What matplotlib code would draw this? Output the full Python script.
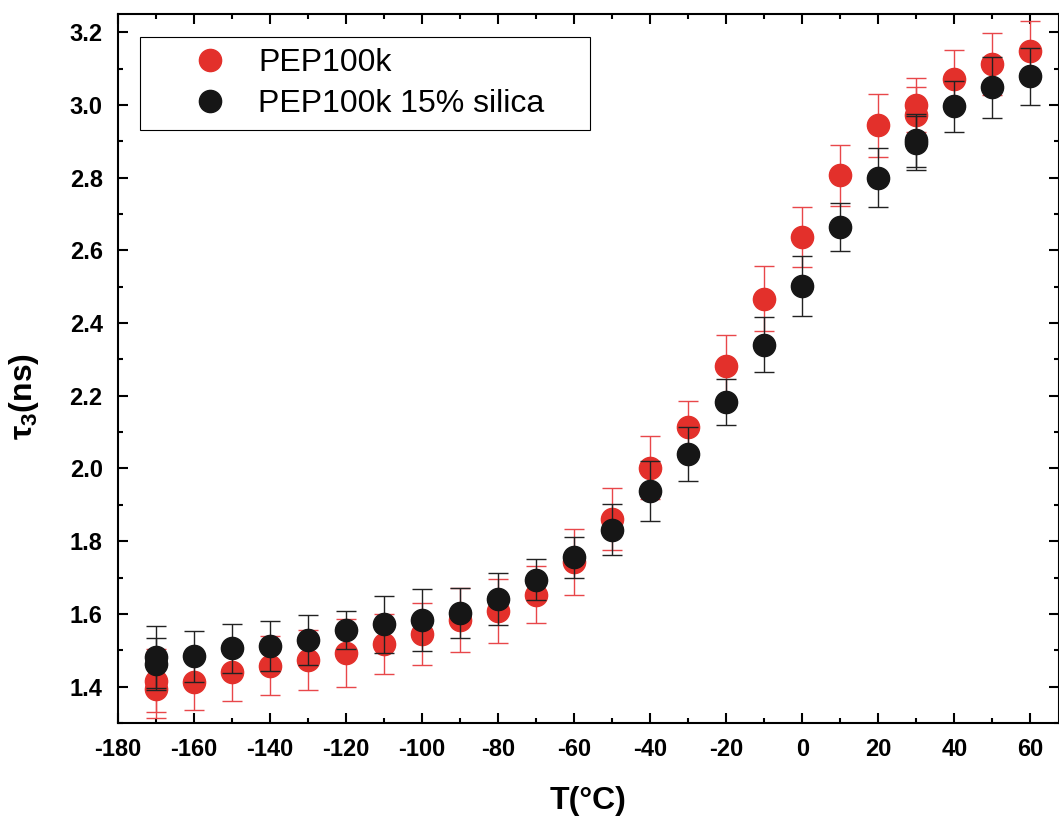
import matplotlib
matplotlib.use("Agg")
import matplotlib.pyplot as plt
from matplotlib.ticker import MultipleLocator, FormatStrFormatter

plt.rcParams['font.family'] = ['Liberation Sans', 'DejaVu Sans']
plt.rcParams['mathtext.fontset'] = 'custom'
plt.rcParams['mathtext.rm'] = 'Liberation Sans'
plt.rcParams['mathtext.it'] = 'Liberation Sans:italic'
plt.rcParams['mathtext.default'] = 'regular'
plt.rcParams['axes.unicode_minus'] = False

# PEP100k (red)
temp_pep = [-170, -170, -160, -150, -140, -130, -120, -110, -100, -90, -80, -70,
            -60, -50, -40, -30, -20, -10, 0, 10, 20, 30, 30, 40, 50, 60]
tau_pep = [1.416, 1.394, 1.412, 1.439, 1.458, 1.473, 1.493, 1.518, 1.545, 1.583,
           1.607, 1.653, 1.742, 1.860, 2.002, 2.113, 2.282, 2.467, 2.637, 2.807,
           2.944, 3.000, 2.972, 3.070, 3.112, 3.149]
err_pep = [0.087, 0.080, 0.076, 0.078, 0.081, 0.083, 0.093, 0.083, 0.085, 0.088,
           0.088, 0.079, 0.091, 0.085, 0.087, 0.072, 0.084, 0.090, 0.082, 0.084,
           0.086, 0.075, 0.078, 0.082, 0.086, 0.082]

# PEP100k 15% silica (black)
temp_sil = [-170, -170, -160, -150, -140, -130, -120, -110, -100, -90, -80, -70,
            -60, -50, -40, -30, -20, -10, 0, 10, 20, 30, 30, 40, 50, 60]
tau_sil = [1.481, 1.462, 1.483, 1.505, 1.511, 1.529, 1.556, 1.571, 1.584, 1.602,
           1.641, 1.694, 1.756, 1.832, 1.938, 2.039, 2.183, 2.341, 2.502, 2.663,
           2.800, 2.903, 2.895, 2.996, 3.048, 3.079]
err_sil = [0.085, 0.072, 0.070, 0.067, 0.069, 0.069, 0.053, 0.079, 0.085, 0.068,
           0.072, 0.057, 0.056, 0.070, 0.083, 0.074, 0.064, 0.075, 0.083, 0.066,
           0.081, 0.073, 0.075, 0.070, 0.083, 0.078]

fig = plt.figure(figsize=(10.59, 8.19), dpi=100)
ax = fig.add_axes([0.1114, 0.1172, 0.8886, 0.8657])

red = ax.errorbar(temp_pep, tau_pep, yerr=err_pep, fmt='o', color='#e3302b',
                  markeredgecolor='#e3302b', ecolor='#e8474a', elinewidth=1.0,
                  capsize=7, capthick=1.0, markersize=16, zorder=2)
blk = ax.errorbar(temp_sil, tau_sil, yerr=err_sil, fmt='o', color='#161616',
                  markeredgecolor='#161616', ecolor='#222222', elinewidth=1.0,
                  capsize=7, capthick=1.0, markersize=16, zorder=3)

ax.set_xlim(-180, 67.5)
ax.set_ylim(1.3, 3.25)
ax.xaxis.set_major_locator(MultipleLocator(20))
ax.xaxis.set_minor_locator(MultipleLocator(10))
ax.yaxis.set_major_locator(MultipleLocator(0.2))
ax.yaxis.set_minor_locator(MultipleLocator(0.1))
ax.yaxis.set_major_formatter(FormatStrFormatter('%.1f'))

ax.tick_params(which='both', direction='in', top=True, right=True, width=1.5)
ax.tick_params(which='major', length=7, labelsize=17, pad=11)
ax.tick_params(which='minor', length=3.5)
for lab in ax.get_xticklabels() + ax.get_yticklabels():
    lab.set_fontweight('bold')
for sp in ax.spines.values():
    sp.set_linewidth(1.5)

ax.set_xlabel('T(°C)', fontsize=23, fontweight='bold', labelpad=18)
ax.set_ylabel(r'$\tau_3$(ns)', fontsize=23, fontweight='bold')
ax.yaxis.set_label_coords(-0.082, 0.46)

leg = ax.legend([red[0], blk[0]], ['PEP100k', 'PEP100k 15% silica'],
                loc='upper left', bbox_to_anchor=(0.0234, 0.84, 0.4787, 0.1276),
                mode='expand', borderaxespad=0, fontsize=23, frameon=True,
                fancybox=False, edgecolor='black', framealpha=1, numpoints=1,
                borderpad=0.35, labelspacing=0.34, handlelength=3.7,
                handletextpad=-0.35)
leg.get_frame().set_linewidth(0.8)

fig.savefig('out.png', dpi=100)
